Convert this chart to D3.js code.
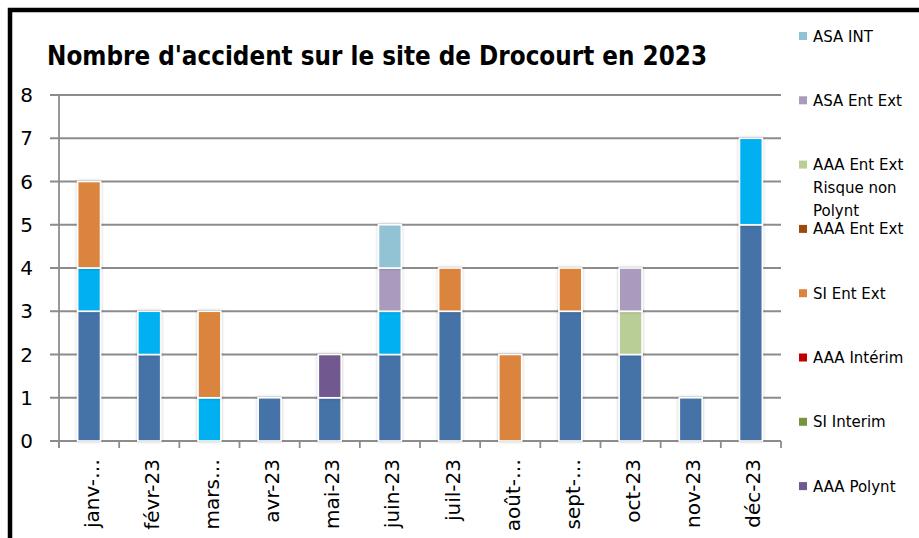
<!DOCTYPE html>
<html>
<head>
<meta charset="utf-8">
<script src="https://cdn.jsdelivr.net/npm/d3@7"></script>
<style>
  body { margin: 0; background: #fff; }
  svg { display: block; }
</style>
</head>
<body>
<div id="chart"></div>
<script>

// Data
var months = ["janv-23","févr-23","mars-23","avr-23","mai-23","juin-23","juil-23","août-23","sept-23","oct-23","nov-23","déc-23"];
var tickLabels = ["janv-…","févr-23","mars…","avr-23","mai-23","juin-23","juil-23","août-…","sept-…","oct-23","nov-23","déc-23"];
var yTicks = [0,1,2,3,4,5,6,7,8];

// stack order, bottom to top
var seriesNames = ["SI Polynt","ASA Polynt","AAA Polynt","SI Interim","AAA Intérim","SI Ent Ext","AAA Ent Ext","AAA Ent Ext Risque non Polynt","ASA Ent Ext","ASA INT"];
var siPolynt      = [3,2,0,1,1,2,3,0,3,2,1,5];
var asaPolynt     = [1,1,1,0,0,1,0,0,0,0,0,2];
var aaaPolynt     = [0,0,0,0,1,0,0,0,0,0,0,0];
var siInterim     = [0,0,0,0,0,0,0,0,0,0,0,0];
var aaaInterim    = [0,0,0,0,0,0,0,0,0,0,0,0];
var siEntExt      = [2,0,2,0,0,0,1,2,1,0,0,0];
var aaaEntExt     = [0,0,0,0,0,0,0,0,0,0,0,0];
var aaaEntExtRnp  = [0,0,0,0,0,0,0,0,0,1,0,0];
var asaEntExt     = [0,0,0,0,0,1,0,0,0,1,0,0];
var asaInt        = [0,0,0,0,0,1,0,0,0,0,0,0];
var seriesValues = [siPolynt, asaPolynt, aaaPolynt, siInterim, aaaInterim, siEntExt, aaaEntExt, aaaEntExtRnp, asaEntExt, asaInt];
var seriesColors = ["#4572a7","#00b0f0","#71588f","#77933c","#c00000","#db843d","#9c4a0c","#b9cd96","#a99bbd","#92c3d5"];

var W = 919, H = 538;
var margin = { top: 95, left: 59, right: 142, bottom: 97 };

var svg = d3.select("#chart").append("svg")
    .attr("width", W)
    .attr("height", H);

// bar shadow
var defs = svg.append("defs");
var filt = defs.append("filter").attr("id","shadow")
    .attr("x","-30%").attr("y","-10%").attr("width","160%").attr("height","120%");
filt.append("feDropShadow")
    .attr("dx",0).attr("dy",0).attr("stdDeviation",1.6)
    .attr("flood-color","#000").attr("flood-opacity",0.25);

// black frame
svg.append("path")
    .attr("d","M10," + (H + 5) + " L10,10 L" + (W + 5) + ",10")
    .attr("fill","none")
    .attr("stroke","#000")
    .attr("stroke-width",4.5);

var x0 = margin.left, x1 = W - margin.right + 4;

var x = d3.scaleBand()
    .domain(months)
    .range([x0, x1])
    .paddingInner(0.62)
    .paddingOuter(0.31);

var y = d3.scaleLinear()
    .domain([0,8])
    .range([H - margin.bottom, margin.top]);

// gridlines + left ticks
svg.selectAll(".grid")
    .data(yTicks)
    .enter().append("line")
    .attr("class","grid")
    .attr("x1", x0 - 9)
    .attr("x2", x1)
    .attr("y1", d => y(d))
    .attr("y2", d => y(d))
    .attr("stroke","#8c8c8c")
    .attr("stroke-width",1.8);

// y axis line
svg.append("line")
    .attr("x1",x0).attr("x2",x0)
    .attr("y1",y(8)).attr("y2",y(0) + 7)
    .attr("stroke","#8c8c8c")
    .attr("stroke-width",1.8);

// x ticks at category boundaries
svg.selectAll(".xtick")
    .data(d3.range(months.length + 1))
    .enter().append("line")
    .attr("class","xtick")
    .attr("x1", i => x0 + i * x.step())
    .attr("x2", i => x0 + i * x.step())
    .attr("y1", y(0))
    .attr("y2", y(0) + 7)
    .attr("stroke","#8c8c8c")
    .attr("stroke-width",1.8);

// y tick labels
svg.selectAll(".ylab")
    .data(yTicks)
    .enter().append("text")
    .attr("class","ylab")
    .attr("x",33)
    .attr("y", d => y(d) + 7)
    .attr("text-anchor","end")
    .attr("font-family","DejaVu Sans")
    .attr("font-size","20px")
    .attr("fill","#000")
    .text(d => d);

// x tick labels
svg.selectAll(".xlab")
    .data(months)
    .enter().append("text")
    .attr("class","xlab")
    .attr("transform",(d,i) => "translate(" + (x(d) + x.bandwidth() / 2 + 9.5) + "," + 459 + ") rotate(-90)")
    .attr("text-anchor","end")
    .attr("font-family","DejaVu Sans")
    .attr("font-size","20px")
    .attr("fill","#000")
    .text((d,i) => tickLabels[i]);

// stacked bars
var table = months.map(function(m,i){
    var row = { month: m };
    seriesNames.forEach(function(s,k){ row[s] = seriesValues[k][i]; });
    return row;
});
var stack = d3.stack().keys(seriesNames)(table);

var layers = svg.selectAll(".layer")
    .data(stack)
    .enter().append("g")
    .attr("class","layer")
    .attr("fill",(d,k) => seriesColors[k]);

layers.selectAll("rect")
    .data(d => d.filter(p => p[1] - p[0] > 0))
    .enter().append("rect")
    .attr("x", d => x(d.data.month))
    .attr("width", x.bandwidth())
    .attr("y", d => y(d[1]))
    .attr("height", d => y(d[0]) - y(d[1]))
    .attr("stroke","#fff")
    .attr("stroke-width",1.6)
    .attr("filter","url(#shadow)");

// title
svg.append("text")
    .attr("x",47)
    .attr("y",65)
    .attr("font-family","DejaVu Sans")
    .attr("font-weight","bold")
    .attr("font-size","27px")
    .attr("textLength",660)
    .attr("lengthAdjust","spacingAndGlyphs")
    .attr("fill","#000")
    .text("Nombre d'accident sur le site de Drocourt en 2023");

// legend, reverse of stack order; the last two entries fall below the frame in the original
var legendItems = seriesNames.map((s,k) => ({ name: s, color: seriesColors[k] })).reverse();
var legStep = 64.3;
var legend = svg.selectAll(".leg")
    .data(legendItems.filter((d,i) => 36 + i * legStep < H - 20))
    .enter().append("g")
    .attr("class","leg")
    .attr("transform",(d,i) => "translate(799," + (36 + i * legStep) + ")");

legend.append("rect")
    .attr("x",0).attr("y",-4)
    .attr("width",8).attr("height",8)
    .attr("fill", d => d.color);

legend.each(function(d){
    var g = d3.select(this);
    var lines = d.name == "AAA Ent Ext Risque non Polynt" ? ["AAA Ent Ext","Risque non","Polynt"] : [d.name];
    g.selectAll("text")
        .data(lines)
        .enter().append("text")
        .attr("x",14)
        .attr("y",(l,j) => 5.5 + j * 23)
        .attr("font-family","DejaVu Sans")
        .attr("font-size","15px")
        .attr("fill","#000")
        .text(l => l);
});

</script>
</body>
</html>
